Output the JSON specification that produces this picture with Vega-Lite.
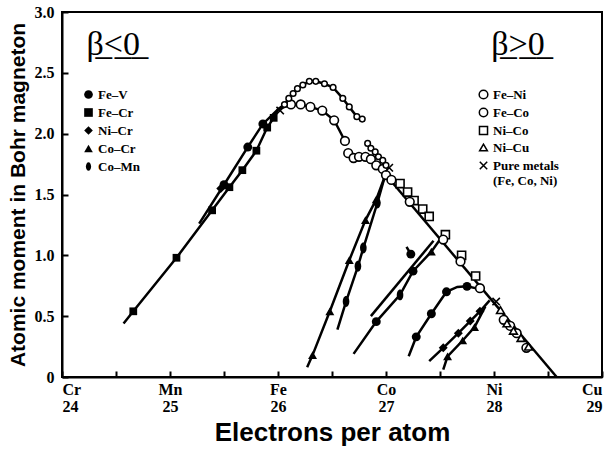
{
  "$schema": "https://vega.github.io/schema/vega-lite/v6.json",
  "width": 540,
  "height": 365,
  "autosize": "none",
  "padding": {"left": 62, "top": 12, "right": 6, "bottom": 72},
  "background": "white",
  "config": {
    "view": {"stroke": "black", "strokeWidth": 2},
    "axis": {
      "domainColor": "black", "domainWidth": 2, "tickColor": "black", "tickWidth": 2,
      "labelColor": "black", "titleColor": "black", "grid": false
    }
  },
  "data": {"values": [
    {"g": "fecr", "a": null, "x": 24.57, "y": 0.44},
    {"g": "fecr", "a": "Fe–Cr", "x": 24.66, "y": 0.54},
    {"g": "fecr", "a": "Fe–Cr", "x": 25.06, "y": 0.98},
    {"g": "fecr", "a": "Fe–Cr", "x": 25.39, "y": 1.37},
    {"g": "fecr", "a": "Fe–Cr", "x": 25.55, "y": 1.56},
    {"g": "fecr", "a": "Fe–Cr", "x": 25.67, "y": 1.70},
    {"g": "fecr", "a": "Fe–Cr", "x": 25.8, "y": 1.86},
    {"g": "fecr", "a": "Fe–Cr", "x": 25.9, "y": 2.05},
    {"g": "fecr", "a": "Fe–Cr", "x": 25.96, "y": 2.13},
    {"g": "fecr", "a": null, "x": 26.0, "y": 2.2},
    {"g": "fev", "a": null, "x": 25.27, "y": 1.26},
    {"g": "fev", "a": "Fe–V", "x": 25.5, "y": 1.58},
    {"g": "fev", "a": "Fe–V", "x": 25.72, "y": 1.89},
    {"g": "fev", "a": "Fe–V", "x": 25.86, "y": 2.08},
    {"g": "fev", "a": null, "x": 26.0, "y": 2.2},
    {"g": null, "a": "Ni–Cr", "x": 25.47, "y": 1.55},
    {"g": "feco1", "a": null, "x": 26.0, "y": 2.2},
    {"g": "feco1", "a": "Fe–Co", "x": 26.06, "y": 2.24},
    {"g": "feco1", "a": "Fe–Co", "x": 26.1, "y": 2.29},
    {"g": "feco1", "a": "Fe–Co", "x": 26.14, "y": 2.33},
    {"g": "feco1", "a": "Fe–Co", "x": 26.18, "y": 2.37},
    {"g": "feco1", "a": "Fe–Co", "x": 26.23, "y": 2.4},
    {"g": "feco1", "a": "Fe–Co", "x": 26.29, "y": 2.43},
    {"g": "feco1", "a": "Fe–Co", "x": 26.35, "y": 2.43},
    {"g": "feco1", "a": "Fe–Co", "x": 26.43, "y": 2.41},
    {"g": "feco1", "a": "Fe–Co", "x": 26.51, "y": 2.38},
    {"g": "feco1", "a": "Fe–Co", "x": 26.6, "y": 2.29},
    {"g": "feco1", "a": "Fe–Co", "x": 26.66, "y": 2.22},
    {"g": "feco1", "a": "Fe–Co", "x": 26.73, "y": 2.14},
    {"g": "feco1", "a": "Fe–Co", "x": 26.78, "y": 2.12},
    {"g": "feni1", "a": null, "x": 26.0, "y": 2.2},
    {"g": "feni1", "a": "Fe–Ni", "x": 26.12, "y": 2.24},
    {"g": "feni1", "a": "Fe–Ni", "x": 26.21, "y": 2.24},
    {"g": "feni1", "a": "Fe–Ni", "x": 26.3, "y": 2.22},
    {"g": "feni1", "a": "Fe–Ni", "x": 26.41, "y": 2.19},
    {"g": "feni1", "a": "Fe–Ni", "x": 26.52, "y": 2.11},
    {"g": "feni1", "a": "Fe–Ni", "x": 26.62, "y": 1.94},
    {"g": "feni2", "a": "Fe–Ni", "x": 26.65, "y": 1.84},
    {"g": "feni2", "a": "Fe–Ni", "x": 26.7, "y": 1.8},
    {"g": "feni2", "a": "Fe–Ni", "x": 26.75, "y": 1.81},
    {"g": "feni2", "a": "Fe–Ni", "x": 26.81, "y": 1.81},
    {"g": "feni2", "a": "Fe–Ni", "x": 26.86, "y": 1.79},
    {"g": "feni2", "a": "Fe–Ni", "x": 26.91, "y": 1.74},
    {"g": "feni2", "a": "Fe–Ni", "x": 26.97, "y": 1.71},
    {"g": "feni2", "a": "Fe–Ni", "x": 27.0, "y": 1.66},
    {"g": "feco2", "a": "Fe–Co", "x": 26.83, "y": 1.92},
    {"g": "feco2", "a": "Fe–Co", "x": 26.86, "y": 1.88},
    {"g": "feco2", "a": "Fe–Co", "x": 26.9, "y": 1.85},
    {"g": "feco2", "a": "Fe–Co", "x": 26.93, "y": 1.81},
    {"g": "feco2", "a": "Fe–Co", "x": 26.97, "y": 1.78},
    {"g": "feco2", "a": "Fe–Co", "x": 27.0, "y": 1.74},
    {"g": "main", "a": null, "x": 27.0, "y": 1.66},
    {"g": "main", "a": null, "x": 28.58, "y": 0.0},
    {"g": null, "a": "Pure metals", "x": 26.02, "y": 2.19},
    {"g": null, "a": "Pure metals", "x": 27.03, "y": 1.72},
    {"g": null, "a": "Pure metals", "x": 28.02, "y": 0.62},
    {"g": null, "a": "Ni–Co", "x": 27.13, "y": 1.59},
    {"g": null, "a": "Ni–Co", "x": 27.2, "y": 1.52},
    {"g": null, "a": "Ni–Co", "x": 27.26, "y": 1.45},
    {"g": null, "a": "Ni–Co", "x": 27.34, "y": 1.38},
    {"g": null, "a": "Ni–Co", "x": 27.4, "y": 1.32},
    {"g": null, "a": "Ni–Co", "x": 27.55, "y": 1.17},
    {"g": null, "a": "Ni–Co", "x": 27.7, "y": 1.0},
    {"g": null, "a": "Ni–Co", "x": 27.83, "y": 0.83},
    {"g": null, "a": "Fe–Ni", "x": 27.05, "y": 1.62},
    {"g": null, "a": "Fe–Ni", "x": 27.22, "y": 1.44},
    {"g": null, "a": "Fe–Ni", "x": 27.53, "y": 1.13},
    {"g": null, "a": "Fe–Ni", "x": 27.69, "y": 0.95},
    {"g": null, "a": "Fe–Ni", "x": 27.87, "y": 0.73},
    {"g": null, "a": "Fe–Ni", "x": 28.09, "y": 0.47},
    {"g": null, "a": "Fe–Ni", "x": 28.15, "y": 0.42},
    {"g": null, "a": "Fe–Ni", "x": 28.21, "y": 0.36},
    {"g": null, "a": "Fe–Ni", "x": 28.3, "y": 0.24},
    {"g": null, "a": "Ni–Cu", "x": 28.06, "y": 0.55},
    {"g": null, "a": "Ni–Cu", "x": 28.12, "y": 0.44},
    {"g": null, "a": "Ni–Cu", "x": 28.18, "y": 0.38},
    {"g": null, "a": "Ni–Cu", "x": 28.25, "y": 0.32},
    {"g": null, "a": "Ni–Cu", "x": 28.32, "y": 0.25},
    {"g": "cocr", "a": null, "x": 26.27, "y": 0.08},
    {"g": "cocr", "a": "Co–Cr", "x": 26.32, "y": 0.18},
    {"g": "cocr", "a": "Co–Cr", "x": 26.48, "y": 0.54},
    {"g": "cocr", "a": "Co–Cr", "x": 26.66, "y": 0.96},
    {"g": "cocr", "a": "Co–Cr", "x": 26.81, "y": 1.29},
    {"g": "cocr", "a": "Co–Cr", "x": 26.91, "y": 1.46},
    {"g": "cocr", "a": null, "x": 26.99, "y": 1.65},
    {"g": "comn", "a": null, "x": 26.55, "y": 0.39},
    {"g": "comn", "a": "Co–Mn", "x": 26.63, "y": 0.62},
    {"g": "comn", "a": "Co–Mn", "x": 26.74, "y": 0.91},
    {"g": "comn", "a": "Co–Mn", "x": 26.79, "y": 1.06},
    {"g": "comn", "a": "Co–Mn", "x": 26.92, "y": 1.43},
    {"g": "comn", "a": null, "x": 26.99, "y": 1.65},
    {"g": "a1", "a": null, "x": 26.7, "y": 0.19},
    {"g": "a1", "a": "Fe–V", "x": 26.91, "y": 0.455},
    {"g": "a1", "a": "Co–Mn", "x": 27.13, "y": 0.675},
    {"g": "a1", "a": "Fe–V", "x": 27.25, "y": 0.87},
    {"g": "a1", "a": "Co–Cr", "x": 27.42, "y": 1.03},
    {"g": "a1", "a": null, "x": 27.5, "y": 1.13},
    {"g": "a2", "a": null, "x": 26.86, "y": 0.5},
    {"g": "a2", "a": null, "x": 27.44, "y": 1.12},
    {"g": "iso", "a": null, "x": 27.19, "y": 1.07},
    {"g": "iso", "a": "Fe–V", "x": 27.23, "y": 1.01},
    {"g": "b", "a": null, "x": 27.21, "y": 0.17},
    {"g": "b", "a": "Fe–V", "x": 27.28, "y": 0.33},
    {"g": "b", "a": "Fe–V", "x": 27.42, "y": 0.52},
    {"g": "b", "a": "Fe–V", "x": 27.56, "y": 0.7},
    {"g": "b", "a": null, "x": 27.66, "y": 0.74},
    {"g": "b", "a": "Fe–V", "x": 27.75, "y": 0.745},
    {"g": "b", "a": null, "x": 27.88, "y": 0.72},
    {"g": "c", "a": null, "x": 27.4, "y": 0.13},
    {"g": "c", "a": "Ni–Cr", "x": 27.53, "y": 0.24},
    {"g": "c", "a": "Ni–Cr", "x": 27.67, "y": 0.36},
    {"g": "c", "a": "Ni–Cr", "x": 27.78, "y": 0.46},
    {"g": "c", "a": "Ni–Cr", "x": 27.87, "y": 0.54},
    {"g": "c", "a": null, "x": 27.96, "y": 0.63},
    {"g": "d", "a": null, "x": 27.53, "y": 0.06},
    {"g": "d", "a": "Co–Cr", "x": 27.57, "y": 0.17},
    {"g": "d", "a": "Co–Cr", "x": 27.71, "y": 0.3},
    {"g": "d", "a": "Co–Cr", "x": 27.82, "y": 0.41},
    {"g": "d", "a": null, "x": 27.92, "y": 0.58}
  ]},
  "encoding": {
    "x": {
      "field": "x", "type": "quantitative",
      "scale": {"domain": [24, 29], "nice": false, "zero": false},
      "axis": {
        "title": "Electrons per atom",
        "values": [24, 24.5, 25, 25.5, 26, 26.5, 27, 27.5, 28, 28.5, 29],
        "labelExpr": "datum.value % 1 != 0 ? '' : [['Cr','Mn','Fe','Co','Ni','Cu'][datum.value - 24], '' + datum.value]",
        "tickSize": -6,
        "labelPadding": 10,
        "labelFont": "Liberation Serif", "labelFontWeight": "bold", "labelFontSize": 16,
        "labelLineHeight": 17,
        "labelOverlap": false,
        "titleFont": "Liberation Sans", "titleFontSize": 26, "titleFontWeight": "bold",
        "titlePadding": 5
      }
    },
    "y": {
      "field": "y", "type": "quantitative",
      "scale": {"domain": [0, 3], "nice": false},
      "axis": {
        "title": "Atomic moment in Bohr magneton",
        "values": [0, 0.5, 1, 1.5, 2, 2.5, 3],
        "labelExpr": "datum.value == 0 ? '0' : format(datum.value, '.1f')",
        "tickSize": -6,
        "labelPadding": 14,
        "labelFont": "Liberation Serif", "labelFontWeight": "bold", "labelFontSize": 16,
        "titleFont": "Liberation Sans", "titleFontSize": 21, "titleFontWeight": "bold",
        "titlePadding": 6
      }
    }
  },
  "layer": [
    {
      "transform": [{"filter": "datum.g != null"}],
      "mark": {"type": "line", "stroke": "black", "strokeWidth": 2.5},
      "encoding": {"detail": {"field": "g", "type": "nominal"}}
    },
    {
      "transform": [{"filter": {"field": "a", "oneOf": ["Fe–V", "Fe–Cr", "Ni–Cr", "Co–Cr", "Co–Mn"]}}],
      "mark": {"type": "point", "filled": true, "color": "black", "opacity": 1},
      "encoding": {
        "shape": {
          "field": "a", "type": "nominal",
          "scale": {
            "domain": ["Fe–V", "Fe–Cr", "Ni–Cr", "Co–Cr", "Co–Mn"],
            "range": ["circle", "square", "diamond", "triangle-up", "M0,-1A0.6,1,0,1,1,0,1A0.6,1,0,1,1,0,-1Z"]
          },
          "legend": {
            "title": "β̲<̲0̲",
            "orient": "none", "legendX": 20, "legendY": 16,
            "titleFont": "Liberation Serif", "titleFontSize": 34, "titleFontWeight": "normal",
            "titleColor": "black", "titlePadding": 26, "titleAnchor": "end",
            "labelFont": "Liberation Serif", "labelFontWeight": "bold", "labelFontSize": 13,
            "labelColor": "black", "labelOffset": 3,
            "symbolSize": 75,
            "symbolFillColor": "black", "symbolStrokeColor": "black",
            "rowPadding": 3,
            "encode": {"symbols": {"update": {
              "fill": {"value": "black"}, "stroke": {"value": "black"},
              "size": {"signal": "datum.label == 'Co–Mn' ? 120 : datum.label == 'Fe–Cr' ? 60 : 75"}
            }}}
          }
        },
        "size": {
          "condition": [
            {"test": "datum.a == 'Co–Mn'", "value": 120},
            {"test": "datum.a == 'Fe–Cr'", "value": 60}
          ],
          "value": 80
        }
      }
    },
    {
      "transform": [{"filter": {"field": "a", "oneOf": ["Fe–Ni", "Ni–Co", "Ni–Cu", "Pure metals"]}}],
      "mark": {"type": "point", "filled": false, "color": "black", "strokeWidth": 1.6, "fill": "white", "opacity": 1},
      "encoding": {
        "shape": {
          "field": "a", "type": "nominal",
          "scale": {
            "domain": ["Fe–Ni", "Fe–Co", "Ni–Co", "Ni–Cu", "Pure metals"],
            "range": ["circle", "circle", "square", "triangle-up", "M-1,-1L1,1M-1,1L1,-1"]
          },
          "legend": {
            "title": "β̲>̲0̲",
            "orient": "none", "legendX": 415, "legendY": 16,
            "titleFont": "Liberation Serif", "titleFontSize": 34, "titleFontWeight": "normal",
            "titleColor": "black", "titlePadding": 26, "titleAnchor": "middle",
            "labelFont": "Liberation Serif", "labelFontWeight": "bold", "labelFontSize": 13,
            "labelColor": "black", "labelOffset": 3,
            "labelExpr": "datum.label == 'Pure metals' ? ['Pure metals', '(Fe, Co, Ni)'] : datum.label",
            "symbolFillColor": "white", "symbolStrokeColor": "black", "symbolStrokeWidth": 1.5,
            "rowPadding": 3
          }
        },
        "size": {
          "field": "a", "type": "nominal",
          "scale": {"domain": ["Fe–Ni", "Fe–Co", "Ni–Co", "Ni–Cu", "Pure metals"], "range": [75, 55]},
          "legend": {
            "title": "β̲>̲0̲",
            "orient": "none", "legendX": 415, "legendY": 16
          }
        }
      }
    },
    {
      "transform": [{"filter": {"field": "a", "equal": "Fe–Co"}}],
      "mark": {"type": "point", "shape": "circle", "filled": false, "color": "black", "strokeWidth": 1.5, "fill": "white", "opacity": 1, "size": 32},
      "encoding": {}
    }
  ],
  "resolve": {
    "scale": {"shape": "independent", "size": "independent"},
    "legend": {"shape": "independent", "size": "independent"}
  }
}
